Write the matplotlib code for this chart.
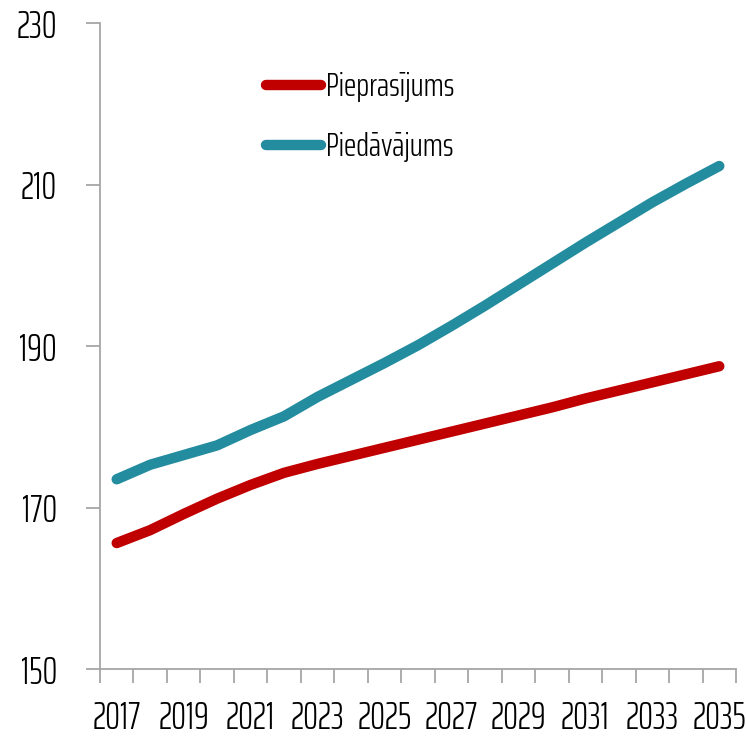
import numpy as np
import matplotlib.pyplot as plt
import matplotlib as mpl

mpl.rcParams['font.family'] = ['Saira ExtraCondensed', 'Pathway Gothic One',
                               'Roboto Condensed', 'DejaVu Sans']
mpl.rcParams['font.weight'] = 300

years = list(range(2017, 2036))
demand = [165.6, 167.2, 169.2, 171.1, 172.8, 174.3, 175.4, 176.4, 177.4, 178.4,
          179.4, 180.4, 181.4, 182.4, 183.5, 184.5, 185.5, 186.5, 187.5]
supply = [173.5, 175.3, 176.5, 177.7, 179.6, 181.3, 183.7, 185.8, 187.9, 190.1,
          192.5, 195.0, 197.6, 200.2, 202.8, 205.3, 207.8, 210.1, 212.3]
labels = ['Pieprasījums', 'Piedāvājums']
colors = ['#C00000', '#238C9E']

fig = plt.figure(figsize=(7.46, 7.45), dpi=100)
ax = fig.add_axes([0.134, 0.102, 0.8526, 0.867])

x = np.arange(len(years))
for vals, lab, col in zip([demand, supply], labels, colors):
    ax.plot(x, vals, color=col, lw=7.5, solid_capstyle='round',
            solid_joinstyle='round', label=lab)

ax.set_ylim(150, 230)
ax.set_yticks([150, 170, 190, 210, 230])
ax.set_xlim(-0.5, len(years) - 0.5)
ax.set_xticks(np.arange(len(years) + 1) - 0.5)
ax.set_xticklabels([])
ax.set_xticks(x[::2], minor=True)
ax.set_xticklabels([str(y) for y in years[::2]], minor=True)

gray = '#A6A6A6'
for s in ['top', 'right']:
    ax.spines[s].set_visible(False)
for s in ['left', 'bottom']:
    ax.spines[s].set_color(gray)
    ax.spines[s].set_linewidth(1.3)
ax.tick_params(axis='y', which='major', length=10, width=1.3, color=gray,
               labelsize=27, pad=21)
ax.tick_params(axis='x', which='major', length=10, width=1.3, color=gray)
ax.tick_params(axis='x', which='minor', length=0, labelsize=27, pad=22)

leg = ax.legend(loc='upper left', bbox_to_anchor=(0.214, 0.97), frameon=False,
                fontsize=24, handlelength=1.65, handletextpad=0.15,
                labelspacing=0.9)

plt.savefig('out.png', dpi=100)
